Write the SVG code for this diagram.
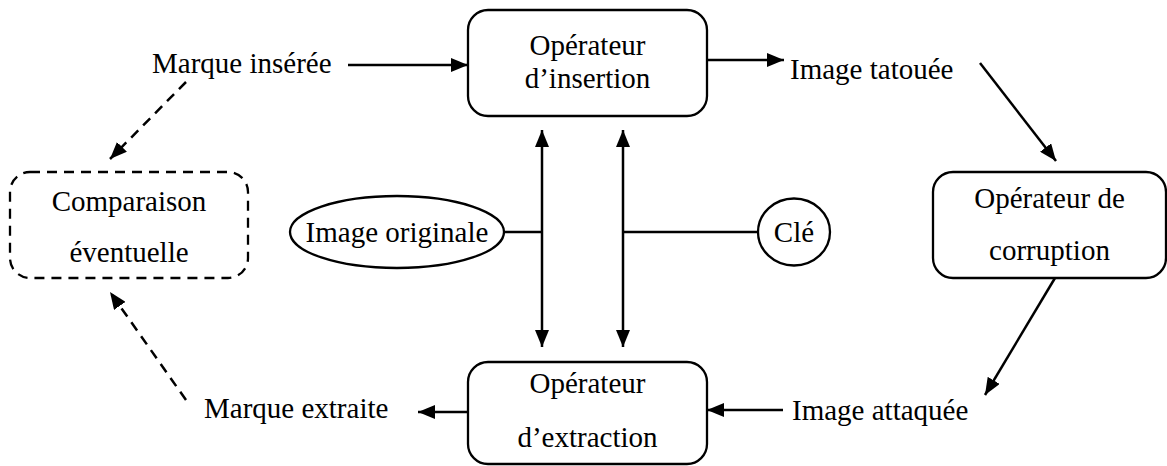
<svg xmlns="http://www.w3.org/2000/svg" width="1167" height="466" viewBox="0 0 1167 466">
<style>
.t{font-family:"Liberation Serif","Times New Roman",serif;font-size:29px;fill:#000}
.m{text-anchor:middle}
.box{fill:#fff;stroke:#000;stroke-width:2.3}
.ln{fill:none;stroke:#000;stroke-width:2.5}
.d{stroke-dasharray:10 7}
</style>
<defs>
<marker id="ah" viewBox="0 0 17 14" refX="17" refY="7" markerWidth="17" markerHeight="14" markerUnits="userSpaceOnUse" orient="auto-start-reverse">
<path d="M0,0 L17,7 L0,14 Z" fill="#000"/>
</marker>
</defs>
<rect width="1167" height="466" fill="#fff"/>
<g id="connectors">
<line class="ln" x1="348" y1="65" x2="468" y2="65" marker-end="url(#ah)"/>
<line class="ln" x1="707" y1="60" x2="784" y2="60" marker-end="url(#ah)"/>
<line class="ln" x1="980" y1="63" x2="1056" y2="161" marker-end="url(#ah)"/>
<line class="ln" x1="1055" y1="278" x2="985" y2="395" marker-end="url(#ah)"/>
<line class="ln" x1="783" y1="410" x2="707" y2="410" marker-end="url(#ah)"/>
<line class="ln" x1="467" y1="412" x2="418" y2="412" marker-end="url(#ah)"/>
<line class="ln" x1="542" y1="130" x2="542" y2="347" marker-start="url(#ah)" marker-end="url(#ah)"/>
<line class="ln" x1="623" y1="130" x2="623" y2="347" marker-start="url(#ah)" marker-end="url(#ah)"/>
<line class="ln" x1="504" y1="232" x2="542" y2="232"/>
<line class="ln" x1="623" y1="232" x2="758" y2="232"/>
<line class="ln d" x1="186" y1="82" x2="110" y2="159" marker-end="url(#ah)"/>
<line class="ln d" x1="186" y1="400" x2="110" y2="292" marker-end="url(#ah)"/>
</g>
<g id="marque-inseree"><text class="t" x="152" y="73">Marque insérée</text></g>
<g id="insertion">
<rect class="box" x="468" y="10" width="239" height="106" rx="20"/>
<text class="t m" x="587.5" y="55">Opérateur</text>
<text class="t m" x="587.5" y="88">d’insertion</text>
</g>
<g id="image-tatouee"><text class="t" x="790" y="79">Image tatouée</text></g>
<g id="corruption">
<rect class="box" x="933" y="172" width="233" height="106" rx="20"/>
<text class="t m" x="1049.5" y="208">Opérateur de</text>
<text class="t m" x="1049.5" y="260">corruption</text>
</g>
<g id="image-attaquee"><text class="t" x="792" y="420">Image attaquée</text></g>
<g id="extraction">
<rect class="box" x="468" y="362" width="239" height="102" rx="20"/>
<text class="t m" x="587.5" y="393">Opérateur</text>
<text class="t m" x="587.5" y="447">d’extraction</text>
</g>
<g id="marque-extraite"><text class="t" x="204" y="418">Marque extraite</text></g>
<g id="comparaison">
<rect class="box d" x="10" y="172" width="238" height="106" rx="20"/>
<text class="t m" x="129" y="211">Comparaison</text>
<text class="t m" x="129" y="262">éventuelle</text>
</g>
<g id="image-originale">
<ellipse class="box" cx="397" cy="232" rx="107" ry="36"/>
<text class="t m" x="397" y="242">Image originale</text>
</g>
<g id="cle">
<ellipse class="box" cx="794" cy="232" rx="36" ry="33.5"/>
<text class="t m" x="794" y="242">Clé</text>
</g>
</svg>
